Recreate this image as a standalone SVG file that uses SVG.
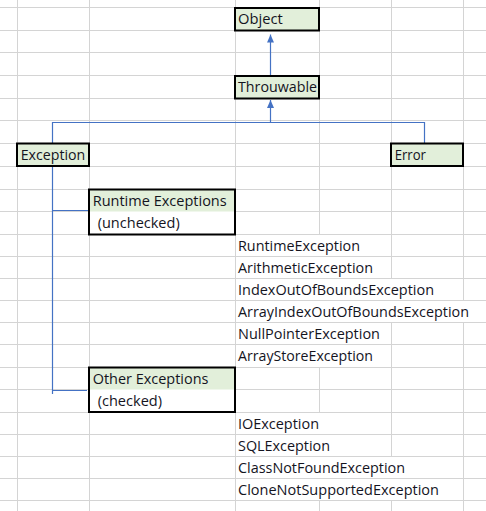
<svg xmlns="http://www.w3.org/2000/svg" width="486" height="511" viewBox="0 0 486 511">
<style>
.g{stroke:#d4d4d4;stroke-width:1;fill:none}
.w{fill:#fff}
.box{stroke:#000;stroke-width:2;fill:#e2efda}
.frame{stroke:#000;stroke-width:2;fill:none}
.half{fill:#e2efda}
.c{stroke:#4472c4;stroke-width:1.2;fill:none}
text{font-family:"Open Sans","Noto Sans",sans-serif;font-size:14px;fill:#14141e}
</style>
<defs>
<marker id="ah" markerUnits="userSpaceOnUse" markerWidth="8" markerHeight="7" viewBox="0 0 8 7" refX="8" refY="3.5" orient="auto">
<path d="M0,0 L8,3.5 L0,7 Z" fill="#4472c4"/>
</marker>
</defs>
<rect width="486" height="511" fill="#fff"/>
<g id="grid">
<path class="g" d="M0 7.5H486M0 30.5H486M0 52.5H486M0 75.5H486M0 98.5H486M0 120.5H486M0 143.5H486M0 166.5H486M0 189.5H486M0 211.5H486M0 234.5H486M0 256.5H486M0 278.5H486M0 300.5H486M0 322.5H486M0 344.5H486M0 367.5H486M0 389.5H486M0 412.5H486M0 434.5H486M0 456.5H486M0 478.5H486M0 500.5H486"/>
<path class="g" d="M17.5 0V511M89.5 0V511M235.5 0V511M319.5 0V511M391.5 0V511M463.5 0V511"/>
<rect class="w" x="236" y="235" width="155" height="21"/>
<rect class="w" x="236" y="257" width="155" height="21"/>
<rect class="w" x="236" y="279" width="227" height="21"/>
<rect class="w" x="236" y="301" width="250" height="21"/>
<rect class="w" x="236" y="323" width="155" height="21"/>
<rect class="w" x="236" y="345" width="155" height="22"/>
<rect class="w" x="236" y="413" width="155" height="21"/>
<rect class="w" x="236" y="435" width="155" height="21"/>
<rect class="w" x="236" y="457" width="227" height="21"/>
<rect class="w" x="236" y="479" width="227" height="21"/>
</g>
<g id="connectors">
<path class="c" d="M270.5 75V34.5" marker-end="url(#ah)"/>
<path class="c" d="M270.5 122.5V100" marker-end="url(#ah)"/>
<path class="c" d="M52.5 143V122.5H424.5V143"/>
<path class="c" d="M52.5 167V394M52.5 210.5H89M52.5 390.5H87"/>
</g>
<g id="object">
<rect class="box" x="235" y="8" width="84" height="22.5"/>
<text x="238" y="24" textLength="44.7" lengthAdjust="spacingAndGlyphs">Object</text>
</g>
<g id="throwable">
<rect class="box" x="235" y="76" width="84" height="22.5"/>
<text x="238" y="92" textLength="79" lengthAdjust="spacingAndGlyphs">Throuwable</text>
</g>
<g id="exception">
<rect class="box" x="17" y="143.5" width="72" height="22.5"/>
<text x="20.7" y="160" textLength="64.6" lengthAdjust="spacingAndGlyphs">Exception</text>
</g>
<g id="error">
<rect class="box" x="391" y="143.5" width="72" height="22.5"/>
<text x="394.7" y="160" textLength="31.3" lengthAdjust="spacingAndGlyphs">Error</text>
</g>
<g id="runtime">
<rect class="w" x="89" y="189.5" width="146" height="45"/>
<rect class="half" x="89" y="189.5" width="146" height="22"/>
<rect class="frame" x="89" y="189.5" width="146" height="45"/>
<text x="92.7" y="206" textLength="134" lengthAdjust="spacingAndGlyphs">Runtime Exceptions</text>
<text x="97.7" y="228" textLength="82" lengthAdjust="spacingAndGlyphs">(unchecked)</text>
</g>
<g id="runtime-list">
<text x="238" y="250.5" textLength="122" lengthAdjust="spacingAndGlyphs">RuntimeException</text>
<text x="238" y="272.5" textLength="135" lengthAdjust="spacingAndGlyphs">ArithmeticException</text>
<text x="238" y="294.5" textLength="196" lengthAdjust="spacingAndGlyphs">IndexOutOfBoundsException</text>
<text x="238" y="316.5" textLength="231" lengthAdjust="spacingAndGlyphs">ArrayIndexOutOfBoundsException</text>
<text x="238" y="338.5" textLength="142" lengthAdjust="spacingAndGlyphs">NullPointerException</text>
<text x="238" y="361" textLength="135" lengthAdjust="spacingAndGlyphs">ArrayStoreException</text>
</g>
<g id="other">
<rect class="w" x="89" y="367.5" width="146" height="44.5"/>
<rect class="half" x="89" y="367.5" width="146" height="22"/>
<rect class="frame" x="89" y="367.5" width="146" height="44.5"/>
<text x="92.7" y="383.5" textLength="115.7" lengthAdjust="spacingAndGlyphs">Other Exceptions</text>
<text x="97.7" y="406" textLength="64.3" lengthAdjust="spacingAndGlyphs">(checked)</text>
</g>
<g id="other-list">
<text x="238" y="428.5" textLength="81" lengthAdjust="spacingAndGlyphs">IOException</text>
<text x="238" y="450.5" textLength="92" lengthAdjust="spacingAndGlyphs">SQLException</text>
<text x="238" y="472.5" textLength="167" lengthAdjust="spacingAndGlyphs">ClassNotFoundException</text>
<text x="238" y="494.5" textLength="201" lengthAdjust="spacingAndGlyphs">CloneNotSupportedException</text>
</g>
</svg>
